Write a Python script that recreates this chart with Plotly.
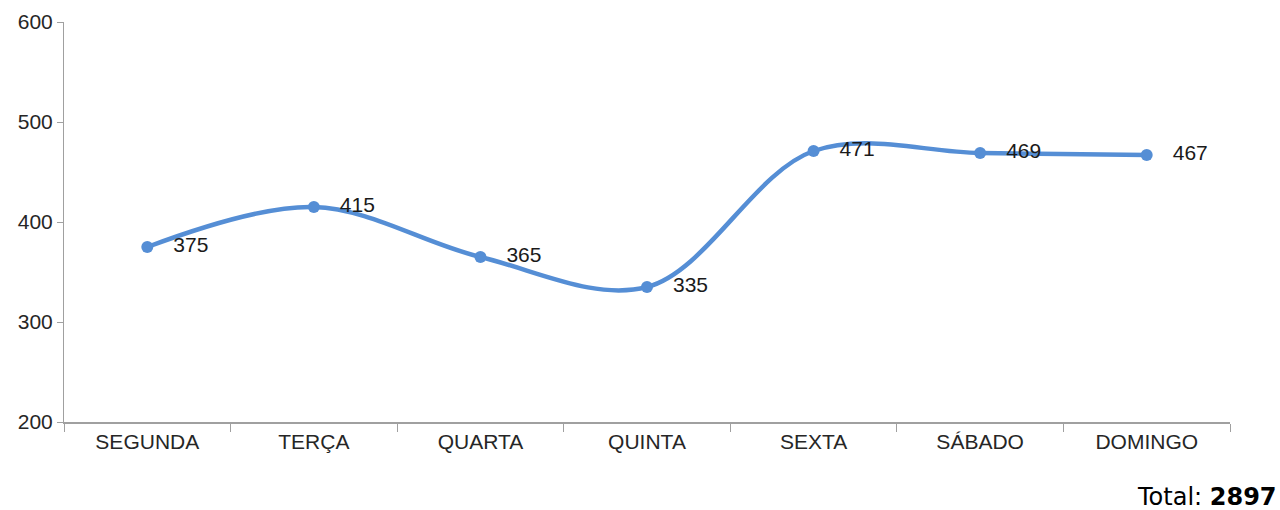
import plotly.graph_objects as go

days = ["SEGUNDA", "TERÇA", "QUARTA", "QUINTA", "SEXTA", "SÁBADO", "DOMINGO"]
values = [375, 415, 365, 335, 471, 469, 467]
y_ticks = [200, 300, 400, 500, 600]
total = sum(values)

line_color = "#558ED5"
axis_color = "#A0A0A0"
font_family = "Liberation Sans, Arial, sans-serif"

fig = go.Figure()
fig.add_trace(go.Scatter(
    x=days, y=values,
    mode="lines+markers+text",
    line=dict(color=line_color, width=4.5, shape="spline", smoothing=1),
    marker=dict(color=line_color, size=12),
    text=["   " + str(v) for v in values],
    textposition="middle right",
    textfont=dict(family=font_family, size=21, color="#1a1a1a"),
    cliponaxis=False,
    hoverinfo="x+y",
))

plot_l, plot_r, plot_t, plot_b = 64, 50, 22, 88
plot_w = 1280 - plot_l - plot_r
plot_h = 510 - plot_t - plot_b

fig.update_layout(
    width=1280, height=510,
    margin=dict(l=plot_l, r=plot_r, t=plot_t, b=plot_b, autoexpand=False),
    plot_bgcolor="white", paper_bgcolor="white",
    showlegend=False,
    font=dict(family=font_family, size=21, color="#262626"),
    xaxis=dict(
        type="category",
        tickson="boundaries",
        ticks="outside", ticklen=8, tickcolor=axis_color, tickwidth=1,
        showline=True, linecolor=axis_color, linewidth=2,
        showgrid=False, zeroline=False,
        range=[-0.5, 6.5],
        tickfont=dict(family=font_family, size=21, color="#262626"),
    ),
    yaxis=dict(
        range=[200, 600],
        tickvals=y_ticks,
        ticks="outside", ticklen=6, tickcolor=axis_color, tickwidth=1,
        showline=True, linecolor=axis_color, linewidth=1,
        showgrid=False, zeroline=False,
        tickfont=dict(family=font_family, size=21, color="#262626"),
    ),
    annotations=[dict(
        x=(1279 - plot_l) / plot_w, xref="paper", xanchor="right",
        y=(510 - plot_b - 497) / plot_h, yref="paper", yanchor="middle",
        text=f"Total: <b>{total}</b>",
        showarrow=False,
        font=dict(family="DejaVu Sans, Verdana, sans-serif", size=24, color="#000000"),
    )],
)

fig.write_html(
    "out.html",
    config={"displayModeBar": False},
    post_script="document.body.style.margin='0';document.body.style.overflow='hidden';",
)
